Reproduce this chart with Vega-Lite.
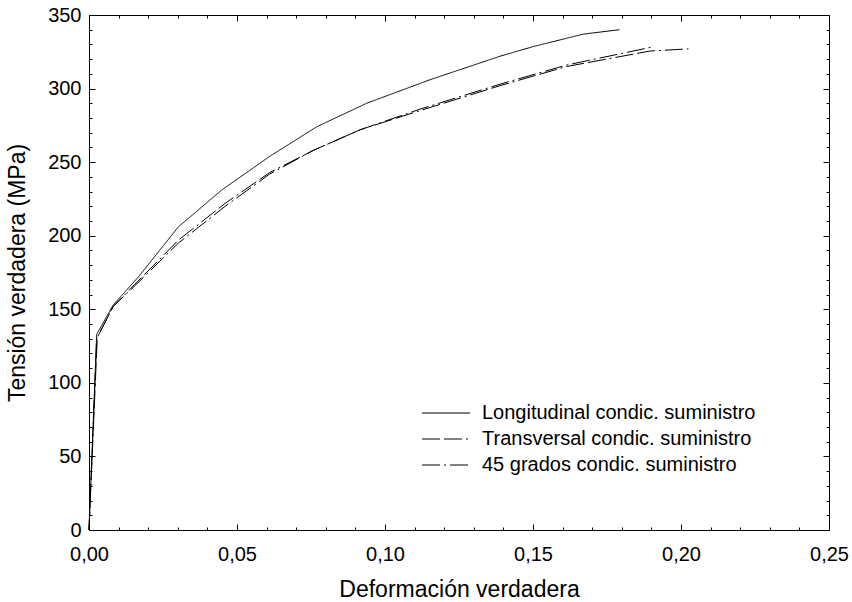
{
  "$schema": "https://vega.github.io/schema/vega-lite/v6.json",
  "width": 740,
  "height": 515,
  "autosize": {"type": "none"},
  "padding": {"left": 89, "top": 15, "right": 23, "bottom": 72},
  "background": "white",
  "config": {
    "font": "Liberation Sans",
    "view": {"stroke": "black", "strokeWidth": 1},
    "axis": {
      "grid": false,
      "domainColor": "black",
      "domainWidth": 1,
      "tickColor": "black",
      "tickWidth": 1,
      "labelColor": "black",
      "labelFontSize": 20,
      "labelFont": "Liberation Sans",
      "titleColor": "black",
      "titleFont": "Liberation Sans",
      "titleFontSize": 23,
      "titleFontWeight": "normal",
      "labelOverlap": false,
      "labelFlush": false
    }
  },
  "resolve": {"axis": {"x": "independent", "y": "independent"}},
  "data": {
    "values": [
      {"s": "Longitudinal condic. suministro", "e": 0, "t": 0},
      {"s": "Longitudinal condic. suministro", "e": 0.0026, "t": 133},
      {"s": "Longitudinal condic. suministro", "e": 0.0082, "t": 153},
      {"s": "Longitudinal condic. suministro", "e": 0.0167, "t": 172},
      {"s": "Longitudinal condic. suministro", "e": 0.0302, "t": 206},
      {"s": "Longitudinal condic. suministro", "e": 0.0448, "t": 231},
      {"s": "Longitudinal condic. suministro", "e": 0.0611, "t": 254},
      {"s": "Longitudinal condic. suministro", "e": 0.0769, "t": 274},
      {"s": "Longitudinal condic. suministro", "e": 0.0938, "t": 290},
      {"s": "Longitudinal condic. suministro", "e": 0.1152, "t": 306},
      {"s": "Longitudinal condic. suministro", "e": 0.1389, "t": 322},
      {"s": "Longitudinal condic. suministro", "e": 0.15, "t": 328.5},
      {"s": "Longitudinal condic. suministro", "e": 0.167, "t": 337},
      {"s": "Longitudinal condic. suministro", "e": 0.1792, "t": 340},
      {"s": "Transversal condic. suministro", "e": 0, "t": 0},
      {"s": "Transversal condic. suministro", "e": 0.0028, "t": 131},
      {"s": "Transversal condic. suministro", "e": 0.0082, "t": 152},
      {"s": "Transversal condic. suministro", "e": 0.0155, "t": 167},
      {"s": "Transversal condic. suministro", "e": 0.0302, "t": 197},
      {"s": "Transversal condic. suministro", "e": 0.046, "t": 222},
      {"s": "Transversal condic. suministro", "e": 0.0611, "t": 243},
      {"s": "Transversal condic. suministro", "e": 0.0758, "t": 258},
      {"s": "Transversal condic. suministro", "e": 0.0916, "t": 272},
      {"s": "Transversal condic. suministro", "e": 0.1118, "t": 285},
      {"s": "Transversal condic. suministro", "e": 0.1389, "t": 302},
      {"s": "Transversal condic. suministro", "e": 0.1614, "t": 315},
      {"s": "Transversal condic. suministro", "e": 0.1895, "t": 325.5},
      {"s": "Transversal condic. suministro", "e": 0.2025, "t": 327},
      {"s": "45 grados condic. suministro", "e": 0, "t": 0},
      {"s": "45 grados condic. suministro", "e": 0.0026, "t": 130},
      {"s": "45 grados condic. suministro", "e": 0.0082, "t": 152},
      {"s": "45 grados condic. suministro", "e": 0.0155, "t": 166},
      {"s": "45 grados condic. suministro", "e": 0.0302, "t": 195},
      {"s": "45 grados condic. suministro", "e": 0.046, "t": 220},
      {"s": "45 grados condic. suministro", "e": 0.0611, "t": 242},
      {"s": "45 grados condic. suministro", "e": 0.0758, "t": 258},
      {"s": "45 grados condic. suministro", "e": 0.0916, "t": 272},
      {"s": "45 grados condic. suministro", "e": 0.1118, "t": 286},
      {"s": "45 grados condic. suministro", "e": 0.1389, "t": 303},
      {"s": "45 grados condic. suministro", "e": 0.1614, "t": 316},
      {"s": "45 grados condic. suministro", "e": 0.1909, "t": 328.5}
    ]
  },
  "layer": [
    {
      "mark": {"type": "line", "strokeWidth": 1, "color": "black"},
      "encoding": {
        "x": {
          "field": "e",
          "type": "quantitative",
          "scale": {"domain": [0, 0.25], "nice": false, "zero": false},
          "axis": {
            "orient": "bottom",
            "title": "Deformación verdadera",
            "values": [0, 0.05, 0.1, 0.15, 0.2, 0.25],
            "labelExpr": "replace(format(datum.value,'.2f'),'.',',')",
            "ticks": false,
            "labelPadding": 14,
            "titlePadding": 14
          }
        },
        "y": {
          "field": "t",
          "type": "quantitative",
          "scale": {"domain": [0, 350], "nice": false},
          "axis": {
            "orient": "left",
            "title": "Tensión verdadera (MPa)",
            "values": [0, 50, 100, 150, 200, 250, 300, 350],
            "format": "d",
            "ticks": false,
            "labelPadding": 8,
            "titlePadding": 18
          }
        },
        "strokeDash": {
          "field": "s",
          "type": "nominal",
          "scale": {
            "domain": ["Longitudinal condic. suministro", "Transversal condic. suministro", "45 grados condic. suministro"],
            "range": [[1, 0], [18, 4, 18, 4, 2, 4], [18, 4, 2, 4]]
          },
          "legend": {
            "orient": "none",
            "legendX": 347,
            "legendY": 388,
            "title": null,
            "symbolType": "M-4,0H4",
            "symbolSize": 144,
            "symbolStrokeWidth": 1,
            "symbolStrokeColor": "black",
            "symbolOpacity": 1,
            "labelFontSize": 20,
            "labelFont": "Liberation Sans",
            "labelColor": "black",
            "labelOffset": 26,
            "labelLimit": 400,
            "rowPadding": 6
          }
        }
      }
    },
    {
      "mark": {"type": "line", "opacity": 0},
      "encoding": {
        "x": {"field": "e", "type": "quantitative", "axis": {"orient": "top", "offset": -515, "title": null, "labels": false, "domain": false, "values": [0, 0.05, 0.1, 0.15, 0.2, 0.25], "tickSize": 6}},
        "y": {"field": "t", "type": "quantitative", "axis": {"orient": "right", "offset": -740, "title": null, "labels": false, "domain": false, "values": [0, 50, 100, 150, 200, 250, 300, 350], "tickSize": 6}},
        "detail": {"field": "s", "type": "nominal"}
      }
    },
    {
      "mark": {"type": "line", "opacity": 0},
      "encoding": {
        "x": {"field": "e", "type": "quantitative", "axis": {"orient": "top", "offset": -515, "title": null, "labels": false, "domain": false, "values": [0.01, 0.02, 0.03, 0.04, 0.06, 0.07, 0.08, 0.09, 0.11, 0.12, 0.13, 0.14, 0.16, 0.17, 0.18, 0.19, 0.21, 0.22, 0.23, 0.24], "tickSize": 3}},
        "y": {"field": "t", "type": "quantitative", "axis": {"orient": "right", "offset": -740, "title": null, "labels": false, "domain": false, "values": [10, 20, 30, 40, 60, 70, 80, 90, 110, 120, 130, 140, 160, 170, 180, 190, 210, 220, 230, 240, 260, 270, 280, 290, 310, 320, 330, 340], "tickSize": 3}},
        "detail": {"field": "s", "type": "nominal"}
      }
    },
    {
      "mark": {"type": "line", "opacity": 0},
      "encoding": {
        "x": {"field": "e", "type": "quantitative", "axis": {"orient": "bottom", "offset": -515, "title": null, "labels": false, "domain": false, "values": [0, 0.05, 0.1, 0.15, 0.2, 0.25], "tickSize": 6}},
        "y": {"field": "t", "type": "quantitative", "axis": {"orient": "left", "offset": -740, "title": null, "labels": false, "domain": false, "values": [0, 50, 100, 150, 200, 250, 300, 350], "tickSize": 6}},
        "detail": {"field": "s", "type": "nominal"}
      }
    },
    {
      "mark": {"type": "line", "opacity": 0},
      "encoding": {
        "x": {"field": "e", "type": "quantitative", "axis": {"orient": "bottom", "offset": -515, "title": null, "labels": false, "domain": false, "values": [0.01, 0.02, 0.03, 0.04, 0.06, 0.07, 0.08, 0.09, 0.11, 0.12, 0.13, 0.14, 0.16, 0.17, 0.18, 0.19, 0.21, 0.22, 0.23, 0.24], "tickSize": 3}},
        "y": {"field": "t", "type": "quantitative", "axis": {"orient": "left", "offset": -740, "title": null, "labels": false, "domain": false, "values": [10, 20, 30, 40, 60, 70, 80, 90, 110, 120, 130, 140, 160, 170, 180, 190, 210, 220, 230, 240, 260, 270, 280, 290, 310, 320, 330, 340], "tickSize": 3}},
        "detail": {"field": "s", "type": "nominal"}
      }
    }
  ]
}
